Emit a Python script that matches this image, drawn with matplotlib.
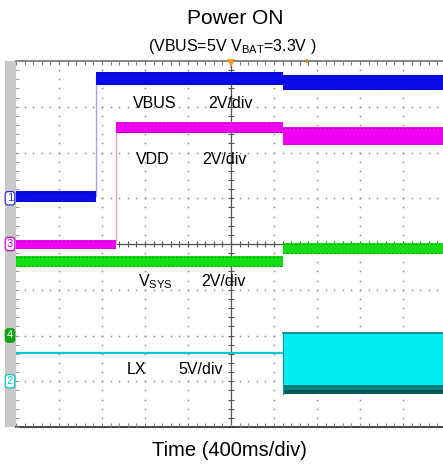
import matplotlib
matplotlib.use("Agg")
import matplotlib.pyplot as plt
from matplotlib.patches import Rectangle
from matplotlib.transforms import blended_transform_factory
import numpy as np

plt.rcParams['font.family'] = ['Liberation Sans', 'DejaVu Sans']
plt.rcParams['mathtext.fontset'] = 'custom'
plt.rcParams['mathtext.rm'] = 'Liberation Sans'
plt.rcParams['mathtext.it'] = 'Liberation Sans'

# ---- data (divisions: x 0..10, y 0..8) ----
vbus_t = [0.0, 1.85, 6.20, 10.0]
vbus_lo = [4.92, 7.48, 7.37]
vbus_hi = [5.16, 7.76, 7.69]

vdd_t = [0.0, 2.33, 6.20, 10.0]
vdd_lo = [3.89, 6.43, 6.16]
vdd_hi = [4.09, 6.67, 6.56]

vsys_t = [0.0, 6.20, 10.0]
vsys_lo = [3.50, 3.78]
vsys_hi = [3.74, 4.02]

lx_t = [0.0, 6.20, 10.0]
lx_lo = [1.60, 0.72]
lx_hi = [1.64, 2.05]

labels = ["VBUS", "VDD", r"V$_{\mathrm{SYS}}$", "LX"]
scales = ["2V/div", "2V/div", "2V/div", "5V/div"]
label_x = [2.72, 2.79, 2.84, 2.58]
scale_x = [4.47, 4.33, 4.30, 3.77]
label_y = [6.98, 5.75, 3.08, 1.16]

chan_ids = ["1", "3", "4", "2"]
chan_levels = [5.0, 4.0, 2.0, 1.0]

title = "Power ON"
subtitle = r"(VBUS=5V V$_{\mathrm{BAT}}$=3.3V )"
xlabel = "Time (400ms/div)"

W, H = 443, 468
fig = plt.figure(figsize=(W / 100, H / 100), dpi=100)
ax = fig.add_axes([16 / W, (H - 427) / H, 430 / W, 366 / H])
ax.set_xlim(0, 10)
ax.set_ylim(0, 8)
ax.axis('off')

# gray strip on left
fig.add_artist(Rectangle((5 / W, (H - 427) / H), 11 / W, 366 / H,
                         transform=fig.transFigure, facecolor='#c9c9c9',
                         edgecolor='none', zorder=0))

# ---- graticule ----
dotc = '#8c8c8c'
minor = np.arange(0, 10.01, 0.2)
minor_y = np.arange(0, 8.01, 0.2)
for gx in range(1, 10):
    if gx == 5:
        continue
    ax.plot(np.full_like(minor_y, gx), minor_y, ls='none', marker='s',
            ms=1.1, mew=0, color=dotc, zorder=1)
for gy in range(1, 8):
    if gy == 4:
        continue
    ax.plot(minor, np.full_like(minor, gy), ls='none', marker='s',
            ms=1.1, mew=0, color=dotc, zorder=1)
# center axes with ticks
axc = '#555555'
ax.plot([5, 5], [0, 8], color=axc, lw=0.9, zorder=1)
ax.plot([0, 10], [4, 4], color=axc, lw=0.9, zorder=1)
ax.plot(np.full_like(minor_y, 5), minor_y, ls='none', marker='_', ms=5,
        mew=0.8, color=axc, zorder=1)
ax.plot(minor, np.full_like(minor, 4), ls='none', marker='|', ms=5,
        mew=0.8, color=axc, zorder=1)
# top and bottom border
ax.plot([0, 10], [8, 8], color='#707070', lw=1.2, zorder=1, clip_on=False)
ax.plot([0, 10], [0, 0], color='#222222', lw=1.2, zorder=1, clip_on=False)
ax.plot(minor, np.full_like(minor, 7.96), ls='none', marker='|', ms=3,
        mew=0.7, color='#777777', zorder=1)
ax.plot(minor, np.full_like(minor, 0.04), ls='none', marker='|', ms=3,
        mew=0.7, color='#777777', zorder=1)
ax.plot(np.full_like(minor_y, 0.03), minor_y, ls='none', marker='_', ms=3,
        mew=0.7, color='#999999', zorder=1)

# ---- traces ----
def band(t, lo, hi, color, edge):
    lo2 = list(lo) + [lo[-1]]
    hi2 = list(hi) + [hi[-1]]
    ax.fill_between(t, lo2, hi2, step='post', color=color, lw=0, zorder=3)
    for i in range(len(lo)):
        ax.hlines([lo[i] + 0.02, hi[i] - 0.02], t[i], t[i + 1], colors=edge,
                  lw=0.7, linestyles=[(0, (1.5, 2.5))], zorder=3.1, alpha=0.8)

# rising edges
ax.plot([vbus_t[1]] * 2, [(vbus_lo[0] + vbus_hi[0]) / 2, (vbus_lo[1] + vbus_hi[1]) / 2],
        color='#a7a7e0', lw=1.0, zorder=2.5)
ax.plot([vdd_t[1]] * 2, [(vdd_lo[0] + vdd_hi[0]) / 2, (vdd_lo[1] + vdd_hi[1]) / 2],
        color='#dca6dc', lw=1.0, zorder=2.5)

band(vbus_t, vbus_lo, vbus_hi, '#0a0ae6', '#000090')
band(vdd_t, vdd_lo, vdd_hi, '#f000f0', '#8a008a')
band(vsys_t, vsys_lo, vsys_hi, '#14dc14', '#0a700a')

# LX: thin line before, wide switching band after
ax.plot([lx_t[0], lx_t[1]], [(lx_lo[0] + lx_hi[0]) / 2] * 2, color='#00c8cc', lw=1.6, zorder=3)
ax.fill_between([lx_t[1], lx_t[2]], lx_lo[1], lx_hi[1], color='#00eef0', lw=0, zorder=3)
ax.fill_between([lx_t[1], lx_t[2]], lx_lo[1], lx_lo[1] + 0.2, color='#00807e', lw=0, zorder=3.1)
ax.fill_between([lx_t[1], lx_t[2]], lx_lo[1], lx_lo[1] + 0.08, color='#005a58', lw=0, zorder=3.2)
ax.plot([lx_t[1], lx_t[2]], [lx_hi[1], lx_hi[1]], color='#008080', lw=1.2, zorder=3.2)
ax.plot([lx_t[1], lx_t[1]], [lx_lo[1], lx_hi[1]], color='#00a0a0', lw=0.8, zorder=3.2)

# ---- labels ----
for lab, sc, lx_, sx, ly in zip(labels, scales, label_x, scale_x, label_y):
    ax.text(lx_, ly, lab, fontsize=11.5, va='baseline', ha='left', color='black', zorder=5)
    ax.text(sx, ly, sc, fontsize=11.5, va='baseline', ha='left', color='black', zorder=5)

# channel markers
trans = blended_transform_factory(ax.transAxes, ax.transData)
chan_style = [('white', '#3030d0', '#3030d0'),
              ('white', '#d000d0', '#d000d0'),
              ('#10a010', '#10a010', 'white'),
              ('white', '#00c0c8', '#00c0c8')]
for cid, lvl, (fc, ec, tc) in zip(chan_ids, chan_levels, chan_style):
    ax.text(-6 / 430, lvl, cid, transform=trans, fontsize=8, color=tc,
            ha='center', va='center', clip_on=False, zorder=6,
            bbox=dict(boxstyle='round,pad=0.15,rounding_size=0.25', fc=fc, ec=ec, lw=0.9))

# trigger marker
ax.plot([5.0], [7.95], marker='v', ms=6, color='#f59a1e', mew=0, clip_on=False, zorder=6)
ax.plot([6.77], [8.0], marker='|', ms=3, mew=1.5, color='#e08a20', clip_on=False, zorder=6)

# titles
fig.text(235 / W, 1 - 18 / H, title, fontsize=15, ha='center', va='center')
fig.text(232 / W, 1 - 47 / H, subtitle, fontsize=11.5, ha='center', va='center')
fig.text(229 / W, 1 - 450 / H, xlabel, fontsize=14.5, ha='center', va='center')

fig.savefig('out.png', dpi=100)
